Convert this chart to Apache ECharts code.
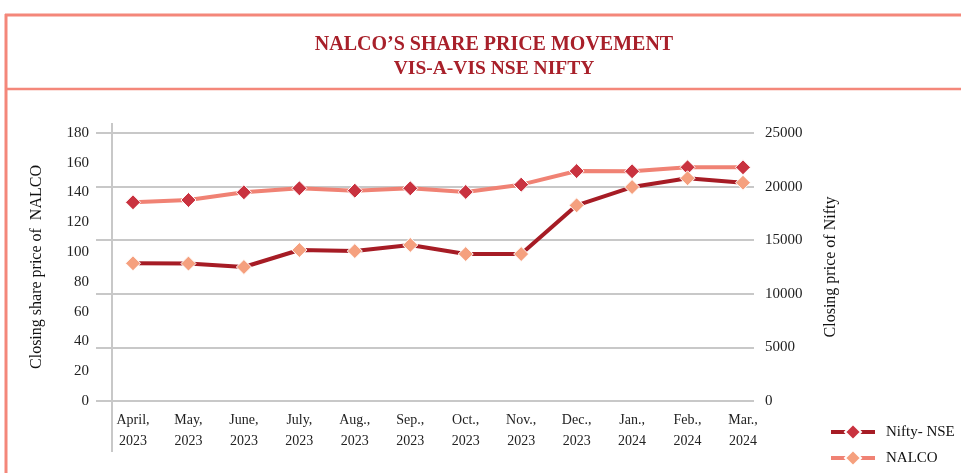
<!DOCTYPE html>
<html>
<head>
<meta charset="utf-8">
<script src="https://cdn.jsdelivr.net/npm/echarts@6/dist/echarts.min.js"></script>
<style>
  html, body { margin: 0; padding: 0; background: #fff; }
  #chart { width: 961px; height: 473px; }
</style>
</head>
<body>
<div id="chart"></div>
<script>
// months on the category axis
var months = ['April,\n2023', 'May,\n2023', 'June,\n2023', 'July,\n2023', 'Aug.,\n2023', 'Sep.,\n2023',
    'Oct.,\n2023', 'Nov.,\n2023', 'Dec.,\n2023', 'Jan.,\n2024', 'Feb.,\n2024', 'Mar.,\n2024'];

// light line, right axis (legend: Nifty- NSE)
var niftyValues = [18535, 18750, 19470, 19840, 19620, 19840, 19500, 20180, 21450, 21430, 21800, 21800];
// dark line, left axis (legend: NALCO)
var nalcoValues = [92.5, 92.3, 90.0, 101.4, 100.7, 104.8, 98.7, 98.7, 131.4, 143.7, 149.6, 146.6];

var leftTicks = { min: 0, max: 180, interval: 20 };
var rightTicks = { min: 0, max: 25000, interval: 5000 };

var serif = "'Liberation Serif', 'DejaVu Serif', serif";
var frameColor = '#f4877a';
var gridColor = '#c8c8c8';

var chart = echarts.init(document.getElementById('chart'));

var option = {
    backgroundColor: '#fff',
    animation: false,
    title: {
        text: 'NALCO\u2019S SHARE PRICE MOVEMENT',
        subtext: 'VIS-A-VIS NSE NIFTY',
        left: 489,
        textAlign: 'center',
        top: 30,
        itemGap: 4,
        textStyle: { fontFamily: serif, fontWeight: 'bold', fontSize: 20, color: '#a8202a' },
        subtextStyle: { fontFamily: serif, fontWeight: 'bold', fontSize: 19.5, color: '#a8202a' }
    },
    legend: {
        orient: 'vertical',
        left: 829,
        top: 423,
        padding: 0,
        itemWidth: 44,
        itemHeight: 20,
        itemGap: 8,
        textStyle: { fontFamily: serif, fontSize: 15, color: '#111', padding: [0, 0, 0, 6] },
        data: [{
            name: 'Nifty- NSE',
            itemStyle: { color: '#c9323f' },
            lineStyle: { color: '#a61c25', width: 4 }
        }, {
            name: 'NALCO',
            itemStyle: { color: '#f5a07e' },
            lineStyle: { color: '#f08274', width: 4 }
        }]
    },
    grid: [
        { left: 133, right: 218, top: 133, bottom: 72 },
        // wider grid only for the horizontal rules
        { left: 96, right: 207, top: 133, bottom: 72 }
    ],
    xAxis: [{
        type: 'category',
        gridIndex: 0,
        boundaryGap: false,
        data: months,
        axisLine: { show: false },
        axisTick: { show: false },
        axisLabel: { fontFamily: serif, fontSize: 14, color: '#222', margin: 9, lineHeight: 21, interval: 0 }
    }, {
        type: 'value',
        gridIndex: 1,
        show: false
    }],
    yAxis: [{
        type: 'value',
        gridIndex: 0,
        min: leftTicks.min,
        max: leftTicks.max,
        interval: leftTicks.interval,
        name: 'Closing share price of  NALCO',
        nameLocation: 'middle',
        nameGap: 88,
        nameTextStyle: { fontFamily: serif, fontSize: 16, color: '#111' },
        axisLine: { show: false },
        axisTick: { show: false },
        splitLine: { show: false },
        axisLabel: { fontFamily: serif, fontSize: 15, color: '#222', margin: 44 }
    }, {
        type: 'value',
        gridIndex: 0,
        position: 'right',
        min: rightTicks.min,
        max: rightTicks.max,
        interval: rightTicks.interval,
        name: 'Closing price of Nifty',
        nameLocation: 'middle',
        nameGap: 80,
        nameTextStyle: { fontFamily: serif, fontSize: 16, color: '#111' },
        axisLine: { show: false },
        axisTick: { show: false },
        splitLine: { show: false },
        axisLabel: {
            fontFamily: serif, fontSize: 15, color: '#222', margin: 22,
            formatter: function (v) { return String(v); }
        }
    }, {
        type: 'value',
        gridIndex: 1,
        min: rightTicks.min,
        max: rightTicks.max,
        interval: rightTicks.interval,
        axisLine: { show: false },
        axisTick: { show: false },
        axisLabel: { show: false },
        splitLine: { show: true, lineStyle: { color: gridColor, width: 2 } }
    }],
    series: [{
        name: 'Nifty- NSE',
        type: 'line',
        xAxisIndex: 0,
        yAxisIndex: 1,
        data: niftyValues,
        symbol: 'diamond',
        symbolSize: 15,
        lineStyle: { color: '#f08274', width: 4 },
        itemStyle: { color: '#c9323f', borderColor: '#fff', borderWidth: 1 },
        z: 3
    }, {
        name: 'NALCO',
        type: 'line',
        xAxisIndex: 0,
        yAxisIndex: 0,
        data: nalcoValues,
        symbol: 'diamond',
        symbolSize: 15,
        lineStyle: { color: '#a61c25', width: 4 },
        itemStyle: { color: '#f5a07e', borderColor: '#fff', borderWidth: 1 },
        z: 4
    }],
    graphic: [
        // page frame
        { type: 'line', shape: { x1: 5, y1: 15, x2: 961, y2: 15 }, style: { stroke: frameColor, lineWidth: 3 } },
        { type: 'line', shape: { x1: 6, y1: 14, x2: 6, y2: 473 }, style: { stroke: frameColor, lineWidth: 3 } },
        { type: 'line', shape: { x1: 5, y1: 89, x2: 961, y2: 89 }, style: { stroke: frameColor, lineWidth: 2.5 } },
        // left vertical rule
        { type: 'line', shape: { x1: 112, y1: 123, x2: 112, y2: 452 }, style: { stroke: gridColor, lineWidth: 2 } }
    ]
};

chart.setOption(option);
</script>
</body>
</html>
